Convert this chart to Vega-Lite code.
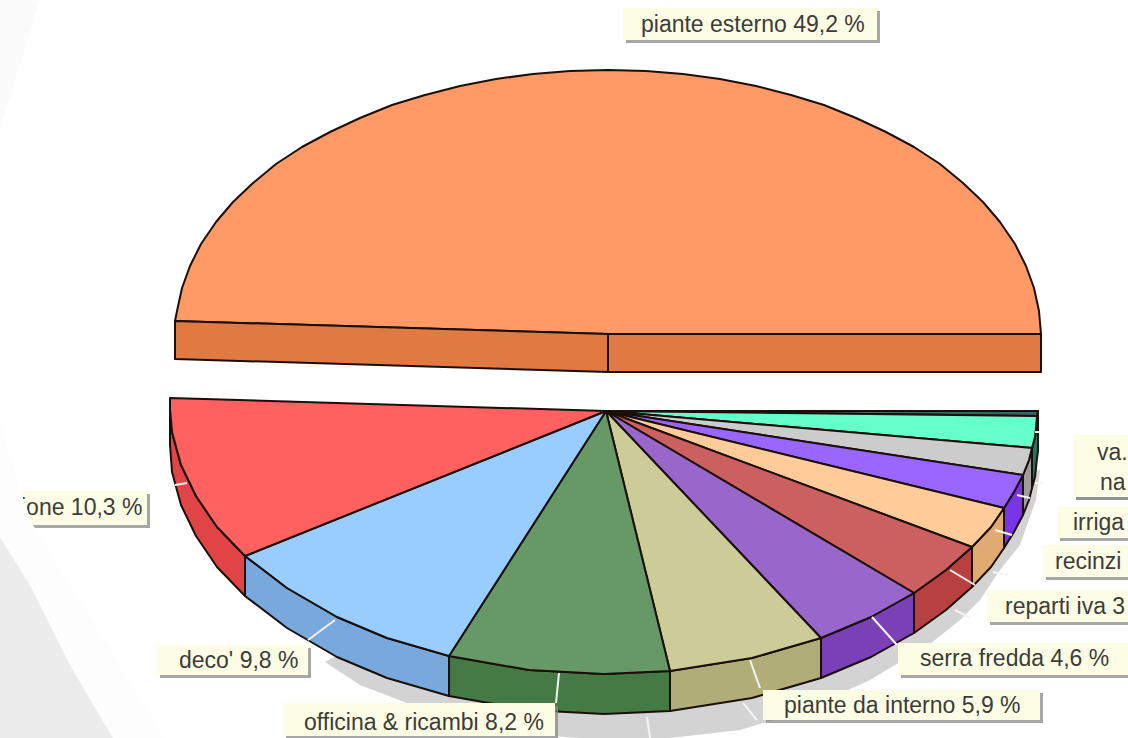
{"$schema":"https://vega.github.io/schema/vega-lite/v6.json","width":1128,"height":738,"padding":0,"autosize":"none","background":"#ffffff","config":{"view":{"stroke":null}},
"resolve":{"scale":{"fill":"independent"}},
"datasets":{
"back":[{"s":"gray","o":0,"x":0,"y":537},{"s":"gray","o":1,"x":30,"y":585},{"s":"gray","o":2,"x":70,"y":665},{"s":"gray","o":3,"x":113,"y":738},{"s":"gray","o":4,"x":0,"y":738},{"s":"faint","o":0,"x":0,"y":130},{"s":"faint","o":1,"x":40,"y":0},{"s":"faint","o":2,"x":0,"y":0},
{"s":"shadow","o":0,"x":1040,"y":470},{"s":"shadow","o":1,"x":1036,"y":500},{"s":"shadow","o":2,"x":1020,"y":545},{"s":"shadow","o":3,"x":1000,"y":570},{"s":"shadow","o":4,"x":980,"y":600},{"s":"shadow","o":5,"x":960,"y":620},{"s":"shadow","o":6,"x":930,"y":644},{"s":"shadow","o":7,"x":870,"y":680},{"s":"shadow","o":8,"x":800,"y":712},{"s":"shadow","o":9,"x":740,"y":730},{"s":"shadow","o":10,"x":670,"y":738},{"s":"shadow","o":11,"x":604,"y":740},{"s":"shadow","o":12,"x":540,"y":735},{"s":"shadow","o":13,"x":480,"y":725},{"s":"shadow","o":14,"x":420,"y":708},{"s":"shadow","o":15,"x":360,"y":685},{"s":"shadow","o":16,"x":325,"y":662},{"s":"shadow","o":17,"x":604,"y":500}],
"band":[{"s":"band","o":0,"x":0,"y":423},{"s":"band","o":1,"x":20,"y":490},{"s":"band","o":2,"x":33,"y":525},{"s":"band","o":3,"x":165,"y":738},{"s":"band","o":4,"x":113,"y":738},{"s":"band","o":5,"x":70,"y":665},{"s":"band","o":6,"x":30,"y":585},{"s":"band","o":7,"x":0,"y":537}],
"pie":[
{"s":"esterno","o":0,"x":1041,"y":334},{"s":"esterno","o":1,"x":1039,"y":311},{"s":"esterno","o":2,"x":1034,"y":288},{"s":"esterno","o":3,"x":1026,"y":266},{"s":"esterno","o":4,"x":1015,"y":244},{"s":"esterno","o":5,"x":1000,"y":222},{"s":"esterno","o":6,"x":983,"y":202},{"s":"esterno","o":7,"x":963,"y":183},{"s":"esterno","o":8,"x":940,"y":164},{"s":"esterno","o":9,"x":914,"y":147},{"s":"esterno","o":10,"x":886,"y":132},{"s":"esterno","o":11,"x":856,"y":118},{"s":"esterno","o":12,"x":824,"y":105},{"s":"esterno","o":13,"x":791,"y":95},{"s":"esterno","o":14,"x":756,"y":86},{"s":"esterno","o":15,"x":720,"y":79},{"s":"esterno","o":16,"x":683,"y":74},{"s":"esterno","o":17,"x":646,"y":71},{"s":"esterno","o":18,"x":608,"y":70},{"s":"esterno","o":19,"x":570,"y":71},{"s":"esterno","o":20,"x":533,"y":74},{"s":"esterno","o":21,"x":496,"y":79},{"s":"esterno","o":22,"x":460,"y":86},{"s":"esterno","o":23,"x":425,"y":95},{"s":"esterno","o":24,"x":392,"y":105},{"s":"esterno","o":25,"x":360,"y":118},{"s":"esterno","o":26,"x":330,"y":132},{"s":"esterno","o":27,"x":302,"y":147},{"s":"esterno","o":28,"x":276,"y":164},{"s":"esterno","o":29,"x":253,"y":183},{"s":"esterno","o":30,"x":233,"y":202},{"s":"esterno","o":31,"x":216,"y":222},{"s":"esterno","o":32,"x":201,"y":244},{"s":"esterno","o":33,"x":190,"y":266},{"s":"esterno","o":34,"x":182,"y":288},{"s":"esterno","o":35,"x":177,"y":311},{"s":"esterno","o":36,"x":175,"y":321},{"s":"esterno","o":37,"x":608,"y":334},
{"s":"esterno rim a","o":0,"x":175,"y":321},{"s":"esterno rim a","o":1,"x":608,"y":334},{"s":"esterno rim a","o":2,"x":608,"y":372},{"s":"esterno rim a","o":3,"x":175,"y":359},
{"s":"esterno rim b","o":0,"x":608,"y":334},{"s":"esterno rim b","o":1,"x":1041,"y":334},{"s":"esterno rim b","o":2,"x":1041,"y":372},{"s":"esterno rim b","o":3,"x":608,"y":372},
{"s":"teal rim","o":0,"x":1038,"y":411},{"s":"teal rim","o":1,"x":1037,"y":418},{"s":"teal rim","o":2,"x":1036,"y":428},{"s":"teal rim","o":3,"x":1035,"y":437},{"s":"teal rim","o":4,"x":1032,"y":448},{"s":"teal rim","o":5,"x":1032,"y":488},{"s":"teal rim","o":6,"x":1035,"y":477},{"s":"teal rim","o":7,"x":1036,"y":468},{"s":"teal rim","o":8,"x":1037,"y":458},{"s":"teal rim","o":9,"x":1038,"y":451},
{"s":"grey rim","o":0,"x":1032,"y":448},{"s":"grey rim","o":1,"x":1029,"y":460},{"s":"grey rim","o":2,"x":1023,"y":475},{"s":"grey rim","o":3,"x":1023,"y":515},{"s":"grey rim","o":4,"x":1029,"y":500},{"s":"grey rim","o":5,"x":1032,"y":488},
{"s":"violet rim","o":0,"x":1023,"y":475},{"s":"violet rim","o":1,"x":1014,"y":492},{"s":"violet rim","o":2,"x":1004,"y":508},{"s":"violet rim","o":3,"x":1004,"y":548},{"s":"violet rim","o":4,"x":1014,"y":532},{"s":"violet rim","o":5,"x":1023,"y":515},
{"s":"peach rim","o":0,"x":1004,"y":508},{"s":"peach rim","o":1,"x":991,"y":527},{"s":"peach rim","o":2,"x":972,"y":547},{"s":"peach rim","o":3,"x":972,"y":587},{"s":"peach rim","o":4,"x":991,"y":567},{"s":"peach rim","o":5,"x":1004,"y":548},
{"s":"brown rim","o":0,"x":972,"y":547},{"s":"brown rim","o":1,"x":946,"y":570},{"s":"brown rim","o":2,"x":914,"y":593},{"s":"brown rim","o":3,"x":914,"y":633},{"s":"brown rim","o":4,"x":946,"y":610},{"s":"brown rim","o":5,"x":972,"y":587},
{"s":"purple rim","o":0,"x":914,"y":593},{"s":"purple rim","o":1,"x":871,"y":617},{"s":"purple rim","o":2,"x":821,"y":638},{"s":"purple rim","o":3,"x":821,"y":678},{"s":"purple rim","o":4,"x":871,"y":657},{"s":"purple rim","o":5,"x":914,"y":633},
{"s":"khaki rim","o":0,"x":821,"y":638},{"s":"khaki rim","o":1,"x":752,"y":658},{"s":"khaki rim","o":2,"x":670,"y":671},{"s":"khaki rim","o":3,"x":670,"y":711},{"s":"khaki rim","o":4,"x":752,"y":698},{"s":"khaki rim","o":5,"x":821,"y":678},
{"s":"green rim","o":0,"x":670,"y":671},{"s":"green rim","o":1,"x":604,"y":674},{"s":"green rim","o":2,"x":529,"y":670},{"s":"green rim","o":3,"x":449,"y":656},{"s":"green rim","o":4,"x":449,"y":696},{"s":"green rim","o":5,"x":529,"y":710},{"s":"green rim","o":6,"x":604,"y":714},{"s":"green rim","o":7,"x":670,"y":711},
{"s":"blue rim","o":0,"x":449,"y":656},{"s":"blue rim","o":1,"x":387,"y":638},{"s":"blue rim","o":2,"x":337,"y":617},{"s":"blue rim","o":3,"x":287,"y":588},{"s":"blue rim","o":4,"x":245,"y":556},{"s":"blue rim","o":5,"x":245,"y":596},{"s":"blue rim","o":6,"x":287,"y":628},{"s":"blue rim","o":7,"x":337,"y":657},{"s":"blue rim","o":8,"x":387,"y":678},{"s":"blue rim","o":9,"x":449,"y":696},
{"s":"red rim","o":0,"x":245,"y":556},{"s":"red rim","o":1,"x":217,"y":527},{"s":"red rim","o":2,"x":196,"y":496},{"s":"red rim","o":3,"x":181,"y":465},{"s":"red rim","o":4,"x":172,"y":432},{"s":"red rim","o":5,"x":170,"y":409},{"s":"red rim","o":6,"x":170,"y":445},{"s":"red rim","o":7,"x":172,"y":472},{"s":"red rim","o":8,"x":181,"y":505},{"s":"red rim","o":9,"x":196,"y":536},{"s":"red rim","o":10,"x":217,"y":567},{"s":"red rim","o":11,"x":245,"y":596},
{"s":"dark","o":0,"x":606,"y":411},{"s":"dark","o":1,"x":1038,"y":411},{"s":"dark","o":2,"x":1037,"y":416},
{"s":"teal","o":0,"x":606,"y":411},{"s":"teal","o":1,"x":1037,"y":416},{"s":"teal","o":2,"x":1036,"y":428},{"s":"teal","o":3,"x":1035,"y":437},{"s":"teal","o":4,"x":1032,"y":448},
{"s":"grey","o":0,"x":606,"y":411},{"s":"grey","o":1,"x":1032,"y":448},{"s":"grey","o":2,"x":1029,"y":460},{"s":"grey","o":3,"x":1023,"y":475},
{"s":"violet","o":0,"x":606,"y":411},{"s":"violet","o":1,"x":1023,"y":475},{"s":"violet","o":2,"x":1014,"y":492},{"s":"violet","o":3,"x":1004,"y":508},
{"s":"peach","o":0,"x":606,"y":411},{"s":"peach","o":1,"x":1004,"y":508},{"s":"peach","o":2,"x":991,"y":527},{"s":"peach","o":3,"x":972,"y":547},
{"s":"brown","o":0,"x":606,"y":411},{"s":"brown","o":1,"x":972,"y":547},{"s":"brown","o":2,"x":946,"y":570},{"s":"brown","o":3,"x":914,"y":593},
{"s":"purple","o":0,"x":606,"y":411},{"s":"purple","o":1,"x":914,"y":593},{"s":"purple","o":2,"x":871,"y":617},{"s":"purple","o":3,"x":821,"y":638},
{"s":"khaki","o":0,"x":606,"y":411},{"s":"khaki","o":1,"x":821,"y":638},{"s":"khaki","o":2,"x":752,"y":658},{"s":"khaki","o":3,"x":670,"y":671},
{"s":"green","o":0,"x":606,"y":411},{"s":"green","o":1,"x":670,"y":671},{"s":"green","o":2,"x":604,"y":674},{"s":"green","o":3,"x":529,"y":670},{"s":"green","o":4,"x":449,"y":656},
{"s":"blue","o":0,"x":606,"y":411},{"s":"blue","o":1,"x":449,"y":656},{"s":"blue","o":2,"x":387,"y":638},{"s":"blue","o":3,"x":337,"y":617},{"s":"blue","o":4,"x":287,"y":588},{"s":"blue","o":5,"x":245,"y":556},
{"s":"red","o":0,"x":606,"y":411},{"s":"red","o":1,"x":245,"y":556},{"s":"red","o":2,"x":217,"y":527},{"s":"red","o":3,"x":196,"y":496},{"s":"red","o":4,"x":181,"y":465},{"s":"red","o":5,"x":172,"y":432},{"s":"red","o":6,"x":170,"y":409},{"s":"red","o":7,"x":170,"y":398}],
"leaders":[{"l":"a","o":0,"x":175,"y":485},{"l":"a","o":1,"x":187,"y":483},{"l":"b","o":0,"x":335,"y":620},{"l":"b","o":1,"x":308,"y":640},{"l":"c","o":0,"x":559,"y":673},{"l":"c","o":1,"x":556,"y":703},{"l":"d","o":0,"x":750,"y":660},{"l":"d","o":1,"x":760,"y":688},{"l":"e","o":0,"x":647,"y":717},{"l":"e","o":1,"x":650,"y":738},{"l":"f","o":0,"x":743,"y":703},{"l":"f","o":1,"x":757,"y":720},{"l":"g","o":0,"x":872,"y":617},{"l":"g","o":1,"x":897,"y":645},{"l":"h","o":0,"x":950,"y":570},{"l":"h","o":1,"x":975,"y":585},{"l":"i","o":0,"x":955,"y":610},{"l":"i","o":1,"x":970,"y":618},{"l":"j","o":0,"x":995,"y":530},{"l":"j","o":1,"x":1012,"y":535},{"l":"k","o":0,"x":993,"y":572},{"l":"k","o":1,"x":1008,"y":575},{"l":"m","o":0,"x":1017,"y":495},{"l":"m","o":1,"x":1030,"y":498},{"l":"n","o":0,"x":1035,"y":483},{"l":"n","o":1,"x":1043,"y":483},{"l":"p","o":0,"x":1035,"y":432},{"l":"p","o":1,"x":1040,"y":432}],
"labels":[
{"t":"piante esterno 49,2 %","x":641,"y":25,"x1":623,"x2":877,"y1":8,"y2":40},
{"t":"ione 10,3 %","x":21,"y":508,"x1":20,"x2":147,"y1":491,"y2":525},
{"t":"deco' 9,8 %","x":179,"y":661,"x1":157,"x2":308,"y1":645,"y2":675},
{"t":"officina & ricambi 8,2 %","x":304,"y":723,"x1":283,"x2":555,"y1":703,"y2":736},
{"t":"piante da interno 5,9 %","x":784,"y":706,"x1":763,"x2":1040,"y1":690,"y2":720},
{"t":"serra fredda 4,6 %","x":920,"y":659,"x1":898,"x2":1128,"y1":643,"y2":675},
{"t":"va.","x":1097,"y":453,"x1":1073,"x2":1128,"y1":435,"y2":497},
{"t":"na","x":1100,"y":483,"x1":1073,"x2":1128,"y1":435,"y2":497},
{"t":"irriga","x":1073,"y":523,"x1":1057,"x2":1128,"y1":507,"y2":538},
{"t":"recinzi","x":1055,"y":562,"x1":1043,"x2":1128,"y1":545,"y2":577},
{"t":"reparti iva 3","x":1005,"y":607,"x1":987,"x2":1128,"y1":590,"y2":622}]},
"encoding":{"x":{"field":"x","type":"quantitative","scale":{"domain":[0,1128],"nice":false,"zero":false},"axis":null},"y":{"field":"y","type":"quantitative","scale":{"domain":[738,0],"nice":false,"zero":false},"axis":null}},
"layer":[
{"data":{"name":"back"},"mark":{"type":"line","filled":true,"interpolate":"linear-closed","strokeWidth":0},"encoding":{"order":{"field":"o","type":"quantitative"},"detail":{"field":"s"},"fill":{"field":"s","type":"nominal","legend":null,"scale":{"domain":["gray","faint","shadow"],"range":["#ececec","#fbfbfb","#d3d3d3"]}}}},
{"data":{"name":"pie"},"mark":{"type":"line","filled":true,"interpolate":"linear-closed","stroke":"#1a0f0a","strokeWidth":2,"strokeJoin":"round"},"encoding":{"order":{"field":"o","type":"quantitative"},"detail":{"field":"s"},"fill":{"field":"s","type":"nominal","legend":null,"scale":{"domain":["esterno","esterno rim a","esterno rim b","teal rim","grey rim","violet rim","peach rim","brown rim","purple rim","khaki rim","green rim","blue rim","red rim","dark","teal","grey","violet","peach","brown","purple","khaki","green","blue","red"],"range":["#ff9966","#e07a42","#e07a42","#1d7a5f","#9e9e9e","#7a33e6","#e0ab72","#b84040","#7a40b5","#b0ad78","#457a45","#78a8dc","#e04444","#336666","#66ffcc","#cccccc","#9966ff","#ffcc99","#cc5f5f","#9966cc","#cccc99","#669966","#99ccff","#ff6060"]}}}},
{"data":{"name":"leaders"},"mark":{"type":"line","stroke":"#f4f4f4","strokeWidth":2},"encoding":{"order":{"field":"o","type":"quantitative"},"detail":{"field":"l"}}},
{"data":{"name":"labels"},"mark":{"type":"rect","color":"#8a8a8a","opacity":0.75,"xOffset":3,"x2Offset":3,"yOffset":3,"y2Offset":3},"encoding":{"x":{"field":"x1","type":"quantitative","scale":{"domain":[0,1128],"nice":false,"zero":false},"axis":null},"x2":{"field":"x2"},"y":{"field":"y1","type":"quantitative","scale":{"domain":[738,0],"nice":false,"zero":false},"axis":null},"y2":{"field":"y2"}}},
{"data":{"name":"labels"},"mark":{"type":"rect","color":"#fdfde6"},"encoding":{"x":{"field":"x1","type":"quantitative","scale":{"domain":[0,1128],"nice":false,"zero":false},"axis":null},"x2":{"field":"x2"},"y":{"field":"y1","type":"quantitative","scale":{"domain":[738,0],"nice":false,"zero":false},"axis":null},"y2":{"field":"y2"}}},
{"data":{"name":"labels"},"mark":{"type":"text","align":"left","baseline":"middle","font":"Liberation Sans","fontSize":23,"color":"#3c3c38"},"encoding":{"text":{"field":"t"}}},
{"data":{"name":"band"},"mark":{"type":"line","filled":true,"interpolate":"linear-closed","strokeWidth":0,"fill":"#fdfdfd"},"encoding":{"order":{"field":"o","type":"quantitative"}}}
]}
